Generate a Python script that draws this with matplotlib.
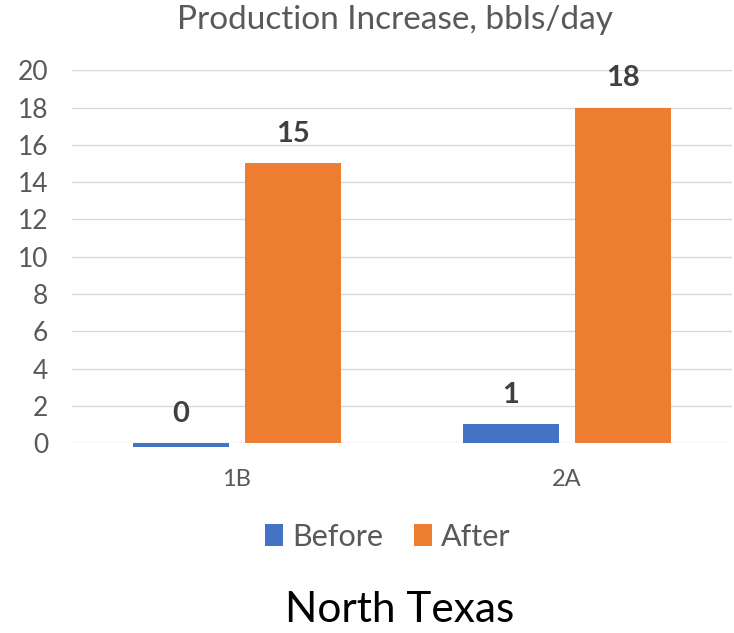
import matplotlib.pyplot as plt
import numpy as np

categories = ["1B", "2A"]
before = [-0.2, 1]
after = [15, 18]
before_labels = ["0", "1"]
after_labels = ["15", "18"]

plt.rcParams["font.family"] = ["Lato", "DejaVu Sans"]

fig = plt.figure(figsize=(7.34, 6.33), dpi=100)
ax = fig.add_axes([0.098, 0.300, 0.899, 0.589])

x = np.arange(len(categories))
w = 0.29
b1 = ax.bar(x - 0.17, before, w, color="#4472C4", label="Before", clip_on=False, zorder=3)
b2 = ax.bar(x + 0.17, after, w, color="#ED7D31", label="After", clip_on=False, zorder=3)

for xi, v, t in zip(x - 0.17, before, before_labels):
    ax.annotate(t, (xi, max(v, 0)), xytext=(0, 21), textcoords="offset points",
                ha="center", va="center", fontsize=21, fontweight="bold", color="#404040")
for xi, v, t in zip(x + 0.17, after, after_labels):
    ax.annotate(t, (xi, v), xytext=(0, 21), textcoords="offset points",
                ha="center", va="center", fontsize=21, fontweight="bold", color="#404040")

ax.set_xlim(-0.5, 1.5)
ax.set_ylim(0, 20)
ax.set_yticks(range(0, 21, 2))
ax.set_xticks(x)
ax.set_xticklabels(categories)
ax.tick_params(axis="both", length=0, colors="#595959")
ax.tick_params(axis="y", pad=17, labelsize=19)
ax.tick_params(axis="x", pad=19, labelsize=17)
ax.grid(axis="y", color="#d9d9d9", lw=1, zorder=0)
for s in ax.spines.values():
    s.set_visible(False)

fig.text(0.538, 0.968, "Production Increase, bbls/day", ha="center", va="center",
         fontsize=24, color="#595959")
fig.legend(handles=[b1, b2], loc="center", bbox_to_anchor=(0.528, 0.152), ncol=2,
           frameon=False, fontsize=22, labelcolor="#595959", handlelength=0.6,
           handleheight=0.7, handletextpad=0.3, columnspacing=1.0)
fig.text(0.545, 0.037, "North Texas", ha="center", va="center", fontsize=30.5, color="black")

fig.savefig("out.png", dpi=100)
